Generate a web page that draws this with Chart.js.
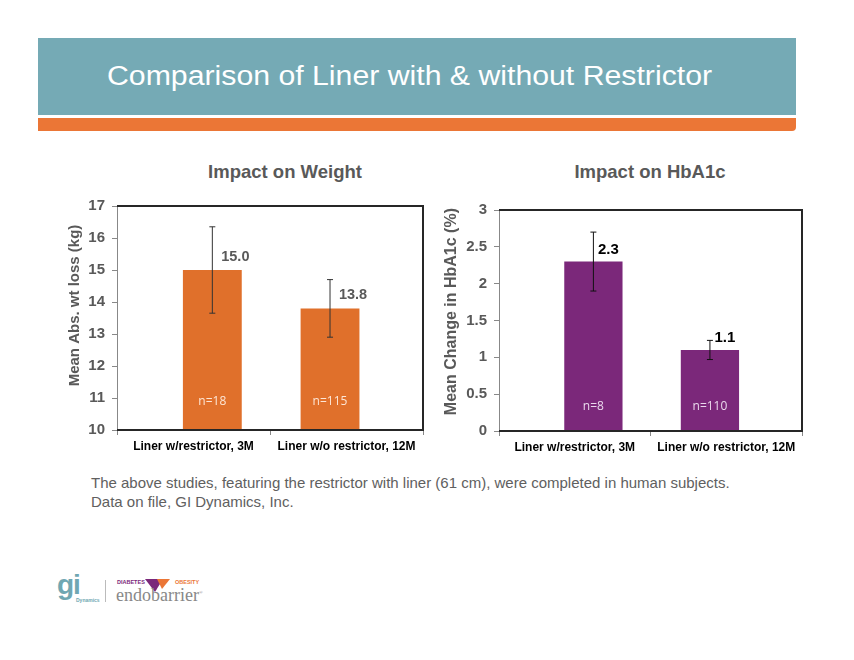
<!DOCTYPE html>
<html>
<head>
<meta charset="utf-8">
<script src="https://cdn.jsdelivr.net/npm/chart.js@4.4.1/dist/chart.umd.min.js"></script>
<style>
  body { margin: 0; width: 854px; height: 660px; background: #fff; position: relative; overflow: hidden; font-family: 'Liberation Sans', Arial, sans-serif; }
  #banner { position: absolute; left: 38px; top: 38px; width: 758px; height: 77px; background: #75aab5; }
  #banner h1 { margin: 0; position: absolute; left: 69px; top: 19px; font-weight: normal; font-size: 27px; line-height: 38px; color: #fff; white-space: nowrap; transform: scaleX(1.12); transform-origin: left center; }
  #stripe { position: absolute; left: 38px; top: 118px; width: 758px; height: 13px; background: #eb7636; border-bottom-right-radius: 4px; }
  .ctitle { position: absolute; top: 161px; width: 300px; text-align: center; font-weight: bold; font-size: 18.5px; line-height: 22px; color: #595959; }
  .wrap { position: absolute; }
  #note { position: absolute; left: 91px; top: 473px; font-size: 15px; line-height: 19px; color: #606060; }
  #logo span { position: absolute; white-space: nowrap; }
  .gi { left: 57px; top: 569px; font-size: 28px; font-weight: bold; color: #6fa7b2; letter-spacing: -1px; }
  .dyn { left: 76px; top: 597px; font-size: 5px; font-weight: bold; color: #6fa7b2; }
  .sep { left: 105px; top: 580px; width: 1px; height: 22px; background: #bbb; }
  .diab { left: 117px; top: 579px; font-size: 5.5px; font-weight: bold; color: #7b287a; }
  .obes { left: 175px; top: 579px; font-size: 5.5px; font-weight: bold; color: #eb7636; }
  .endo { left: 116px; top: 585px; font-family: 'Liberation Serif', serif; font-size: 18px; color: #888; }
  .endo sup { font-size: 5px; }
  #chev { position: absolute; left: 145px; top: 578px; }
</style>
</head>
<body>
<div id="banner"><h1>Comparison of Liner with &amp; without Restrictor</h1></div>
<div id="stripe"></div>

<div class="ctitle" style="left:135px">Impact on Weight</div>
<div class="ctitle" style="left:500px">Impact on HbA1c</div>

<div class="wrap" style="left:60px; top:190px; width:380px; height:270px;"><canvas id="weight"></canvas></div>
<div class="wrap" style="left:440px; top:190px; width:380px; height:271px;"><canvas id="hba1c"></canvas></div>

<div id="note">The above studies, featuring the restrictor with liner (61 cm), were completed in human subjects.<br>Data on file, GI Dynamics, Inc.</div>

<div id="logo">
  <span class="gi">gi</span>
  <span class="dyn">Dynamics</span>
  <span class="sep"></span>
  <span class="diab">DIABETES</span>
  <svg id="chev" width="26" height="15">
    <polygon points="0,1 18,1 10,14" fill="#7b287a"/>
    <polygon points="12,1 25,1 17,11" fill="#eb7636"/>
  </svg>
  <span class="obes">OBESITY</span>
  <span class="endo">endobarrier<sup>®</sup></span>
</div>

<script>
const categories = ['Liner w/restrictor, 3M', 'Liner w/o restrictor, 12M'];

const weightLoss = [15.0, 13.8];
const weightErr = [1.35, 0.9];
const weightN = ['n=18', 'n=115'];
const weightTicks = [10, 11, 12, 13, 14, 15, 16, 17];

const hba1cChange = [2.3, 1.1];
const hba1cErr = [0.4, 0.13];
const hba1cN = ['n=8', 'n=110'];
const hba1cTicks = [0, 0.5, 1, 1.5, 2, 2.5, 3];

Chart.defaults.font.family = "'Liberation Sans', Arial, sans-serif";
Chart.defaults.animation = false;

// error bars, value labels, n= labels and the plot frame
const decor = {
  id: 'decor',
  afterDraw(chart, args, opts) {
    const ctx = chart.ctx;
    const y = chart.scales.y;
    const floor = y.getPixelForValue(y.min);
    const meta = chart.getDatasetMeta(0);
    const data = chart.data.datasets[0].data;
    ctx.save();
    meta.data.forEach((bar, i) => {
      const v = data[i].y;
      const top = y.getPixelForValue(v + opts.errors[i]);
      const bot = y.getPixelForValue(v - opts.errors[i]);
      ctx.strokeStyle = opts.errorColor;
      ctx.lineWidth = 1;
      ctx.beginPath();
      ctx.moveTo(bar.x, top); ctx.lineTo(bar.x, bot);
      ctx.moveTo(bar.x - 3, top); ctx.lineTo(bar.x + 3, top);
      ctx.moveTo(bar.x - 3, bot); ctx.lineTo(bar.x + 3, bot);
      ctx.stroke();

      ctx.textAlign = 'center';
      ctx.textBaseline = 'middle';
      ctx.font = opts.valueFont;
      ctx.fillStyle = opts.valueColor;
      ctx.fillText(v.toFixed(1), bar.x + opts.dx, bar.y - opts.dy);

      ctx.font = "12px 'Open Sans'";
      ctx.fillStyle = opts.nColor;
      ctx.fillText(opts.nLabels[i], bar.x, floor - opts.nOffset);
    });
    const a = chart.chartArea;
    ctx.strokeStyle = '#262626';
    ctx.lineWidth = 2;
    ctx.beginPath();
    ctx.moveTo(a.left, a.top);
    ctx.lineTo(a.right, a.top);
    ctx.lineTo(a.right, a.bottom);
    ctx.lineTo(a.left, a.bottom);
    ctx.stroke();
    ctx.restore();
  }
};

function makeChart(id, values, errs, nLabels, ticks, color, axisTitle, o) {
  return new Chart(document.getElementById(id), {
    type: 'bar',
    data: {
      datasets: [{
        data: values.map((v, i) => ({ x: i, y: v })),
        xAxisID: 'xb',
        backgroundColor: color,
        barPercentage: 0.5,
        categoryPercentage: 1
      }]
    },
    options: {
      responsive: true,
      maintainAspectRatio: false,
      layout: { padding: { top: o.padTop, right: o.padRight, left: 0, bottom: 0 } },
      plugins: {
        legend: { display: false },
        tooltip: { enabled: false },
        decor: {
          errors: errs, nLabels: nLabels, errorColor: o.errorColor,
          valueFont: o.valueFont, valueColor: o.valueColor,
          dx: o.dx, dy: o.dy, nColor: o.nColor, nOffset: o.nOffset
        }
      },
      scales: {
        x: {
          type: 'category',
          labels: categories,
          offset: true,
          afterFit: s => { s.height = 30; },
          ticks: { color: '#000', font: { size: 12, weight: 'bold' }, maxRotation: 0, autoSkip: false, padding: 4 },
          grid: { offset: true, drawOnChartArea: false, tickLength: 5, color: '#888' },
          border: { color: '#262626' }
        },
        xb: {
          type: 'linear',
          display: false,
          offset: false,
          min: -0.81,
          max: 1.79,
          afterBuildTicks: s => { s.ticks = values.map((v, i) => ({ value: i })); }
        },
        y: {
          min: ticks[0],
          max: ticks[ticks.length - 1],
          afterFit: s => { s.width = o.yWidth; },
          afterBuildTicks: s => { s.ticks = ticks.map(v => ({ value: v })); },
          ticks: { color: '#595959', font: { size: o.tickSize, weight: 'bold' }, padding: 7, callback: v => String(v) },
          grid: { drawOnChartArea: false, tickLength: 5, color: '#888' },
          border: { color: '#888' },
          title: {
            display: true, text: axisTitle, color: '#595959',
            font: { size: o.titleSize, weight: 'bold' },
            padding: { top: o.titlePad, bottom: 0 }
          }
        }
      }
    },
    plugins: [decor]
  });
}

// leading no-break spaces lift the rotated axis titles a little, as on the slide
makeChart('weight', weightLoss, weightErr, weightN, weightTicks, '#e0702b', '\u00a0\u00a0\u00a0\u00a0\u00a0\u00a0Mean Abs. wt loss (kg)', {
  padTop: 15, padRight: 17, yWidth: 57, tickSize: 15, titleSize: 15, titlePad: 6,
  errorColor: '#333', valueFont: "bold 14.5px 'Liberation Sans'", valueColor: '#595959',
  dx: 23, dy: 13, nColor: '#fde6d6', nOffset: 28
});

makeChart('hba1c', hba1cChange, hba1cErr, hba1cN, hba1cTicks, '#7b287a', '\u00a0\u00a0\u00a0\u00a0Mean Change in HbA1c (%)', {
  padTop: 20, padRight: 18, yWidth: 59, tickSize: 15, titleSize: 16, titlePad: 2,
  errorColor: '#111', valueFont: "bold 15px 'Liberation Sans'", valueColor: '#000',
  dx: 15, dy: 12, nColor: '#ead8ec', nOffset: 24
});
</script>
</body>
</html>
